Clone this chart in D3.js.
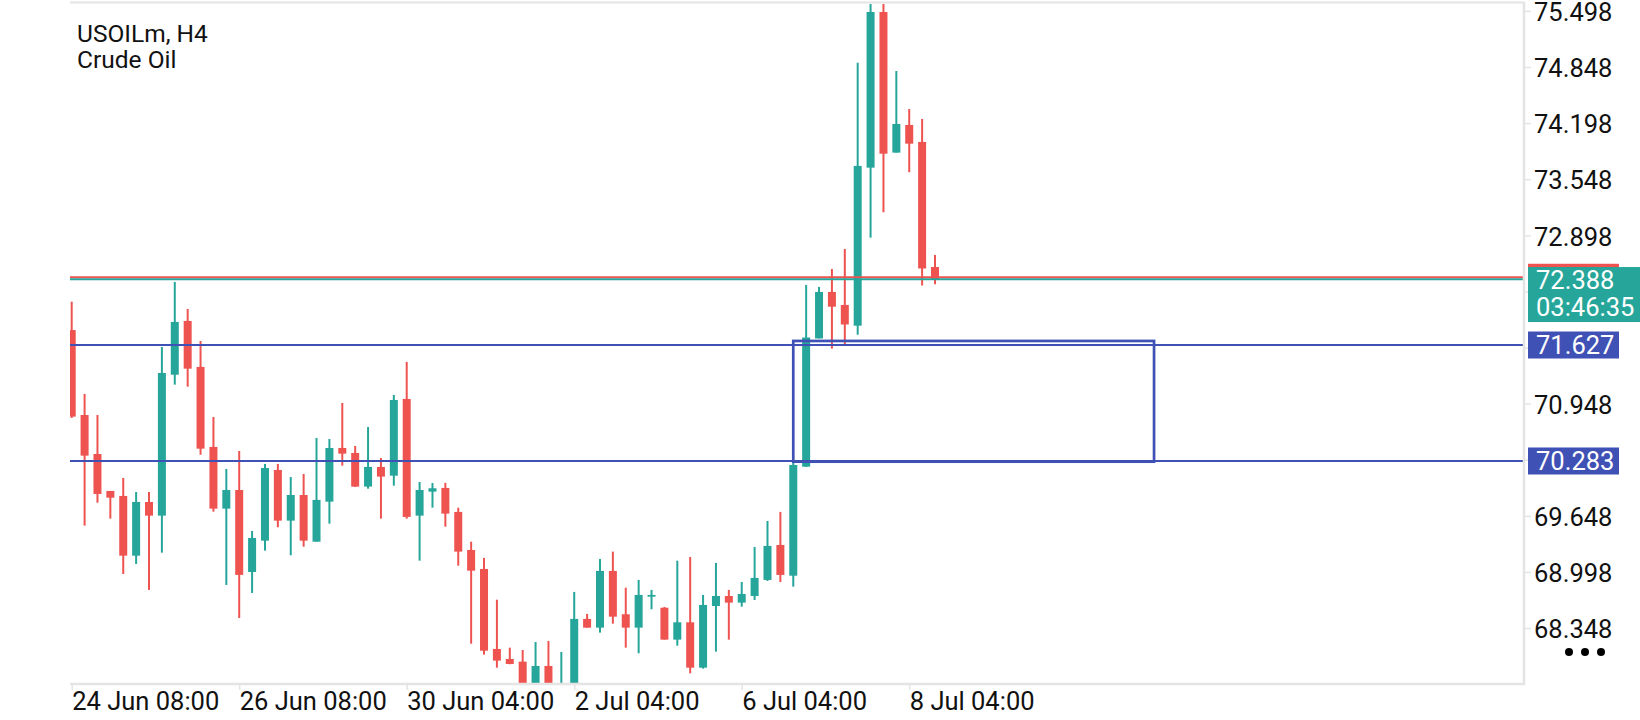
<!DOCTYPE html>
<html><head><meta charset="utf-8">
<script src="https://cdn.jsdelivr.net/npm/d3@7"></script>
<style>html,body{margin:0;padding:0;background:#fff;overflow:hidden}svg{display:block;font-family:Roboto,"Noto Sans",sans-serif}</style>
</head><body><svg id="c" width="1640" height="720"></svg>
<script>
// ---- data (USOILm, H4) ----
const opens  = [71.800,70.816,70.364,69.936,69.878,69.186,69.808,69.650,71.283,71.906,
                71.373,70.446,69.731,69.947,68.997,69.360,70.179,69.592,69.889,69.348,
                69.812,70.434,70.376,69.986,70.214,70.113,71.002,69.650,69.928,69.971,
                69.693,69.252,69.032,68.105,67.989,67.958,67.620,67.908,67.600,67.680,
                68.453,68.352,69.009,68.507,68.352,68.711,68.583,68.213,68.414,67.888,
                68.603,68.719,68.642,68.719,68.905,69.310,68.954,70.217,71.703,72.242,
                72.091,71.851,73.682,75.486,73.856,74.177,73.980,72.531];
const highs  = [72.129,71.060,70.816,69.936,70.086,69.924,69.924,71.604,72.358,72.045,
                71.674,70.793,70.191,70.399,69.472,70.249,70.249,70.098,70.133,70.550,
                70.538,70.955,70.457,70.677,70.318,71.048,71.431,70.040,70.029,70.029,
                69.742,69.348,69.160,68.676,68.120,68.093,68.186,68.198,68.070,68.766,
                68.511,69.148,69.233,68.815,68.905,68.789,68.592,69.128,69.171,68.731,
                69.102,68.789,68.881,69.287,69.588,69.693,70.272,72.323,72.300,72.508,
                72.740,74.899,75.579,75.579,74.802,74.362,74.246,72.670];
const lows   = [70.782,69.534,69.800,69.615,68.974,69.090,68.789,69.221,71.168,71.144,
                70.356,69.696,68.847,68.464,68.754,69.244,69.515,69.191,69.290,69.348,
                69.557,70.229,69.983,69.962,69.615,69.997,69.615,69.128,69.742,69.522,
                69.070,68.166,68.039,67.888,67.928,67.550,67.550,67.520,67.500,67.600,
                68.352,68.294,68.398,68.120,68.055,68.565,68.213,68.143,67.823,67.877,
                68.074,68.213,68.595,68.673,68.893,68.881,68.827,70.214,71.703,71.585,
                71.636,71.747,72.871,73.165,73.856,73.629,72.317,72.331];
const closes = [70.797,70.345,69.901,69.858,69.186,69.808,69.650,71.303,71.894,71.353,
                70.426,69.731,69.947,68.963,69.391,70.202,69.592,69.889,69.360,69.832,
                70.434,70.368,69.986,70.214,70.102,70.990,69.635,69.947,69.967,69.673,
                69.233,69.012,68.085,67.970,67.931,67.620,67.908,67.600,67.680,68.453,
                68.352,69.009,68.479,68.352,68.731,68.731,68.213,68.414,67.888,68.615,
                68.719,68.642,68.742,68.928,69.299,68.963,70.237,71.714,72.242,72.071,
                71.865,73.702,75.486,73.844,74.188,73.960,72.514,72.388];
const timeTickIndex = [0, 13, 26, 39, 52, 65];
const timeTickLabels = ["24 Jun 08:00","26 Jun 08:00","30 Jun 04:00","2 Jul 04:00","6 Jul 04:00","8 Jul 04:00"];
const priceTicks = [75.498,74.848,74.198,73.548,72.898,72.248,71.598,70.948,70.298,69.648,68.998,68.348];
const bidPrice = 72.388, askPrice = 72.412, countdown = "03:46:35";
const levels = [71.627, 70.283];
const zone = {start: 56, end: 84, top: 71.674, bottom: 70.275};
const title1 = "USOILm, H4", title2 = "Crude Oil";

// ---- layout ----
const P = {left:70, right:1524, top:3, bottom:684};
const UP = "#26a69a", DOWN = "#ef5350", BLUE = "#3f51b5", GRID = "#e4e4e4";
const FS = 25.5;
const svg = d3.select("#c");
const x = d3.scaleLinear().domain([0, 67]).range([71.7, 935]);
const y = d3.scaleLinear().domain([67.699, 75.590]).range([P.bottom, P.top]);

svg.append("defs").append("clipPath").attr("id","clip")
  .append("rect").attr("x",P.left).attr("y",P.top).attr("width",P.right-P.left).attr("height",P.bottom-P.top);

const g = svg.append("g").attr("clip-path","url(#clip)");

const candles = opens.map((o,i)=>({i,o,h:highs[i],l:lows[i],c:closes[i]}));
g.selectAll("line.wick").data(candles).enter().append("line")
  .attr("x1",d=>x(d.i)).attr("x2",d=>x(d.i))
  .attr("y1",d=>y(d.h)).attr("y2",d=>y(d.l))
  .attr("stroke",d=>d.c>=d.o?UP:DOWN).attr("stroke-width",2);
g.selectAll("rect.body").data(candles).enter().append("rect")
  .attr("x",d=>x(d.i)-4).attr("width",8)
  .attr("y",d=>y(Math.max(d.o,d.c)))
  .attr("height",d=>Math.max(1.5, Math.abs(y(d.o)-y(d.c))))
  .attr("fill",d=>d.c>=d.o?UP:DOWN);

levels.forEach(v=>{
  svg.append("line").attr("x1",P.left).attr("x2",P.right).attr("y1",y(v)).attr("y2",y(v))
    .attr("stroke",BLUE).attr("stroke-width",1.8);
});
svg.append("rect").attr("x",x(zone.start)).attr("y",y(zone.top))
  .attr("width",x(zone.end)-x(zone.start)).attr("height",y(zone.bottom)-y(zone.top))
  .attr("fill","none").attr("stroke",BLUE).attr("stroke-width",2.7);

svg.append("line").attr("x1",P.left).attr("x2",P.right).attr("y1",y(askPrice)).attr("y2",y(askPrice))
  .attr("stroke",DOWN).attr("stroke-width",2);
svg.append("line").attr("x1",P.left).attr("x2",P.right).attr("y1",y(bidPrice)).attr("y2",y(bidPrice))
  .attr("stroke",UP).attr("stroke-width",2);

// frame
svg.append("line").attr("x1",P.left).attr("x2",P.right+1).attr("y1",P.bottom).attr("y2",P.bottom).attr("stroke",GRID).attr("stroke-width",2.5);
svg.append("line").attr("x1",P.right).attr("x2",P.right).attr("y1",P.top-1).attr("y2",P.bottom+1).attr("stroke",GRID).attr("stroke-width",2.5);
svg.append("line").attr("x1",P.left).attr("x2",P.right).attr("y1",P.top-0.5).attr("y2",P.top-0.5).attr("stroke",GRID).attr("stroke-width",2);

// y axis (labels hidden where a price tag covers them)
const covered = v => [bidPrice, ...levels].some(p => Math.abs(y(v)-y(p)) < 22);
const ya = svg.append("g").attr("transform",`translate(${P.right+1},0)`)
  .call(d3.axisRight(y).tickValues(priceTicks).tickSize(6).tickPadding(3)
    .tickFormat(v => covered(v) ? "" : d3.format(".3f")(v)));
ya.select(".domain").remove();
ya.selectAll(".tick line").attr("stroke",GRID).attr("stroke-width",1.5);
ya.selectAll(".tick text").attr("font-size",FS).attr("fill","#111").attr("font-family","Roboto").attr("dy","0.38em");

// x axis
const xa = svg.append("g").attr("transform",`translate(0,${P.bottom})`)
  .call(d3.axisBottom(x).tickValues(timeTickIndex).tickSize(6).tickPadding(2).tickFormat((d,i)=>timeTickLabels[i]));
xa.select(".domain").remove();
xa.selectAll(".tick line").attr("stroke",GRID).attr("stroke-width",1.5);
xa.selectAll(".tick text").attr("font-size",FS).attr("fill","#111").attr("font-family","Roboto")
  .attr("text-anchor","start").attr("x",0);

// price tags on axis
const LX = 1528;
function tag(v, fill, w, h, offTop){
  svg.append("rect").attr("x",LX).attr("y",y(v)-offTop).attr("width",w).attr("height",h).attr("fill",fill);
}
tag(askPrice, DOWN, 91, 27, 13.5);
tag(bidPrice, UP, 1640-LX, 55, 12.3);
svg.append("text").attr("x",1536).attr("y",y(bidPrice)).attr("dy","0.36em").attr("font-size",FS).attr("fill","#fff").text(d3.format(".3f")(bidPrice));
svg.append("text").attr("x",1536).attr("y",y(bidPrice)+27.5).attr("dy","0.36em").attr("font-size",FS).attr("fill","#fff").text(countdown);
levels.forEach(v=>{
  tag(v, BLUE, 91, 27, 13.5);
  svg.append("text").attr("x",1536).attr("y",y(v)).attr("dy","0.36em").attr("font-size",FS).attr("fill","#fff").text(d3.format(".3f")(v));
});

// menu dots
[1569,1585,1601].forEach(cx=>svg.append("circle").attr("cx",cx).attr("cy",652).attr("r",4).attr("fill","#000"));

// title
svg.append("text").attr("x",77).attr("y",42).attr("font-size",24.5).attr("fill","#111").text(title1);
svg.append("text").attr("x",77).attr("y",68).attr("font-size",24.5).attr("fill","#111").text(title2);
</script></body></html>
